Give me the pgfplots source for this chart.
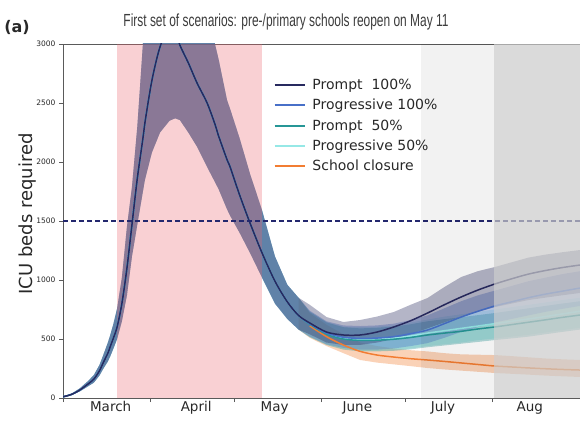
\documentclass[border=0pt]{standalone}
\usepackage{pgfplots}
\pgfplotsset{compat=1.18}
\usepackage{pgfplotstable}
\usepgfplotslibrary{fillbetween}
\usepackage{fontspec}
\setmainfont{DejaVu Sans}
\newfontfamily\titlefont{Liberation Sans}
\usepackage{graphicx}

\definecolor{cNavy}{RGB}{40,42,95}
\definecolor{cBlue}{RGB}{72,112,200}
\definecolor{cTeal}{RGB}{38,150,150}
\definecolor{cCyan}{RGB}{150,232,230}
\definecolor{cOrange}{RGB}{242,125,50}
\definecolor{cDash}{RGB}{35,40,110}
\definecolor{cAxis}{RGB}{90,90,90}
\definecolor{cText}{RGB}{40,40,40}
\definecolor{cGrayOv}{RGB}{202,202,202}
\definecolor{cPink}{RGB}{235,100,110}

\pgfplotstableread{
d nC nU nL bC bU bL tC tU tL cC cU cL
0 10 12 8 10 12 8 10 12 8 10 12 8
3 30 36 25 30 36 25 30 36 25 30 36 25
6 68 82 56 68 82 56 68 82 56 68 82 56
9 120 145 100 120 145 100 120 145 100 120 145 100
11 160 195 130 160 195 130 160 195 130 160 195 130
13 230 280 190 230 280 190 230 280 190 230 280 190
14.3 297 360 245 297 360 245 297 360 245 297 360 245
16 380 470 310 380 470 310 380 470 310 380 470 310
16.8 432 530 350 432 530 350 432 530 350 432 530 350
18 510 630 420 510 630 420 510 630 420 510 630 420
19.3 602 760 500 602 760 500 602 760 500 602 760 500
21 800 1020 650 800 1020 650 800 1020 650 800 1020 650
22.8 1100 1450 870 1100 1450 870 1100 1450 870 1100 1450 870
24.6 1470 1790 1200 1470 1790 1200 1470 1790 1200 1470 1790 1200
26.5 1860 2300 1470 1860 2300 1470 1860 2300 1470 1860 2300 1470
28.5 2200 3000 1750 2200 3000 1750 2200 3000 1750 2200 3000 1750
29.2 2330 3250 1847 2330 3250 1847 2330 3250 1847 2330 3250 1847
31.7 2690 3600 2080 2690 3600 2080 2690 3600 2080 2690 3600 2080
34.6 2975 3900 2250 2975 3900 2250 2975 3900 2250 2975 3900 2250
38 3150 4100 2350 3150 4100 2350 3150 4100 2350 3150 4100 2350
40 3120 4150 2370 3120 4150 2370 3120 4150 2370 3120 4150 2370
41.7 2990 4100 2355 2990 4100 2355 2990 4100 2355 2990 4100 2355
44.7 2840 3900 2250 2840 3900 2250 2840 3900 2250 2840 3900 2250
47.8 2670 3650 2130 2670 3650 2130 2670 3650 2130 2670 3650 2130
51.4 2500 3300 1958 2500 3300 1958 2500 3300 1958 2500 3300 1958
54.2 2320 3000 1830 2320 3000 1830 2320 3000 1830 2320 3000 1830
55.5 2220 2870 1770 2220 2870 1770 2220 2870 1770 2220 2870 1770
58.5 2020 2525 1600 2020 2525 1600 2020 2525 1600 2020 2525 1600
59.6 1958 2450 1545 1958 2450 1545 1958 2450 1545 1958 2450 1545
63 1720 2200 1400 1720 2200 1400 1720 2200 1400 1720 2200 1400
66.7 1483 1900 1230 1483 1900 1230 1483 1900 1230 1483 1900 1230
71 1229 1590 1020 1229 1590 1020 1229 1590 1020 1229 1590 1020
75.6 990 1200 800 990 1200 800 990 1200 800 990 1200 800
80 815 960 670 815 960 670 815 960 670 815 960 670
84 700 850 580 700 850 580 700 850 580 700 850 580
88 636 790 540 630 740 520 625 730 515 628 735 518
94 559 686 470 550 650 455 540 640 449 545 645 452
100 534 644 450 515 615 425 500 600 410 505 605 415
106 534 661 450 505 610 410 488 590 395 495 600 400
112 559 690 470 508 615 410 490 595 395 498 605 400
118 602 729 500 520 630 420 498 605 400 508 615 405
124 655 790 540 545 660 440 513 625 412 525 640 420
130 720 847 590 576 700 465 534 650 430 550 665 440
136 790 940 640 630 760 510 550 668 445 570 690 455
142 856 1025 690 686 820 560 565 685 460 590 710 470
148 915 1075 730 735 870 600 585 702 475 610 730 490
154 966 1110 770 780 910 640 602 720 491 630 750 505
160 1010 1150 800 815 950 670 622 740 505 650 770 520
166 1050 1190 830 850 990 700 642 760 520 670 790 535
172 1080 1215 850 880 1020 730 662 780 540 690 810 555
178 1105 1235 870 905 1050 755 683 800 560 712 830 575
184.4 1127 1254 890 932 1075 780 703 820 580 735 850 595
}\mainTab

\pgfplotstableread{
d oU oL
84 850 580
88 720 510
94 620 440
100 540 380
106 470 322
112 440 300
118 420 285
124 405 270
130 395 254
136 380 242
142 370 232
148 367 222
154 364 212
160 355 205
166 345 198
172 335 190
178 328 184
184.4 322 178
}\orangeBand

\pgfplotstableread{
d oC
88 612
94 520
100 449
106 395
112 364
118 347
124 333
130 322
136 310
142 297
148 284
154 271
160 263
166 255
172 248
178 242
184.4 237
}\orangeLine

\begin{document}
\begin{tikzpicture}
\begin{axis}[
  name=ax,
  scale only axis,
  width=517pt, height=354pt,
  xmin=0, xmax=184.4, ymin=0, ymax=3000,
  axis x line*=box, axis y line*=left,
  xtick pos=bottom, ytick pos=left,
  axis line style={cAxis, line width=0.6pt},
  tick style={cAxis, line width=0.6pt},
  tick align=outside, major tick length=4pt,
  xtick={0,31,61,92,122,153}, xticklabels={},
  extra x ticks={17,47.5,75.5,105,135.5,166.5},
  extra x tick labels={March,April,May,June,July,Aug},
  extra x tick style={major tick length=0pt,
     xticklabel style={font=\fontsize{13.5}{16}\selectfont, text=cText}},
  ytick={0,500,1000,1500,2000,2500,3000},
  yticklabel style={font=\fontsize{7.5}{9}\selectfont, text=cText},
  /pgf/number format/1000 sep={},
  /pgf/number format/assume math mode=true,
  no markers,
  clip=true,
  legend cell align=left,
  legend image code/.code={\draw[#1] (0pt,0pt) -- (30pt,0pt); \path (35pt,0pt);},
  legend style={at={(rel axis cs:0.403,0.913)}, anchor=north west,
     draw=none, fill=none, font=\fontsize{14}{16.5}\selectfont,
     text=cText, row sep=4.3pt, inner sep=2pt},
]
% band boundaries
\addplot[draw=none, name path=oU, forget plot] table[x=d,y=oU]{\orangeBand};
\addplot[draw=none, name path=oL, forget plot] table[x=d,y=oL]{\orangeBand};
\addplot[draw=none, name path=cU, forget plot] table[x=d,y=cU]{\mainTab};
\addplot[draw=none, name path=cL, forget plot] table[x=d,y=cL]{\mainTab};
\addplot[draw=none, name path=tU, forget plot] table[x=d,y=tU]{\mainTab};
\addplot[draw=none, name path=tL, forget plot] table[x=d,y=tL]{\mainTab};
\addplot[draw=none, name path=bU, forget plot] table[x=d,y=bU]{\mainTab};
\addplot[draw=none, name path=bL, forget plot] table[x=d,y=bL]{\mainTab};
\addplot[draw=none, name path=nU, forget plot] table[x=d,y=nU]{\mainTab};
\addplot[draw=none, name path=nL, forget plot] table[x=d,y=nL]{\mainTab};

\addplot[fill=cOrange, fill opacity=0.35, draw=none, forget plot] fill between[of=oU and oL];
\addplot[fill=cCyan, fill opacity=0.35, draw=none, forget plot] fill between[of=cU and cL];
\addplot[fill=cTeal, fill opacity=0.35, draw=none, forget plot] fill between[of=tU and tL];
\addplot[fill=cBlue, fill opacity=0.35, draw=none, forget plot] fill between[of=bU and bL];
\addplot[fill=cNavy, fill opacity=0.35, draw=none, forget plot] fill between[of=nU and nL];

% lockdown overlay
\addplot[fill=cPink, fill opacity=0.3, draw=none, forget plot] coordinates {(19.3,3000) (71,3000)} \closedcycle;

% center lines
\addplot[draw=cOrange, line width=1.5pt, smooth, forget plot] table[x=d,y=oC]{\orangeLine};
\addplot[draw=cCyan, line width=1.5pt, smooth, forget plot] table[x=d,y=cC]{\mainTab};
\addplot[draw=cTeal, line width=1.5pt, smooth, forget plot] table[x=d,y=tC]{\mainTab};
\addplot[draw=cBlue, line width=1.5pt, smooth, forget plot] table[x=d,y=bC]{\mainTab};
\addplot[draw=cNavy, line width=1.5pt, smooth, forget plot] table[x=d,y=nC]{\mainTab};

% capacity line
\addplot[draw=cDash, line width=1.3pt, dash pattern=on 5pt off 3pt, forget plot] coordinates {(0,1500) (184.4,1500)};
% grey overlays
\addplot[fill=black, fill opacity=0.05, draw=none, forget plot] coordinates {(127.7,3000) (153.7,3000)} \closedcycle;
\addplot[fill=cGrayOv, fill opacity=0.7, draw=none, forget plot] coordinates {(153.7,3000) (184.4,3000)} \closedcycle;

% legend
\addlegendimage{draw=cNavy, line width=1.9pt}
\addlegendentry{Prompt\ \ 100\%}
\addlegendimage{draw=cBlue, line width=1.9pt}
\addlegendentry{Progressive 100\%}
\addlegendimage{draw=cTeal, line width=1.9pt}
\addlegendentry{Prompt\ \ 50\%}
\addlegendimage{draw=cCyan, line width=1.9pt}
\addlegendentry{Progressive 50\%}
\addlegendimage{draw=cOrange, line width=1.9pt}
\addlegendentry{School closure}

\coordinate (SW) at (rel axis cs:0,0);
\coordinate (NE) at (rel axis cs:1,1);
\coordinate (NW) at (rel axis cs:0,1);
\end{axis}
\node[anchor=base, text={rgb,255:red,60;green,60;blue,60}, font=\titlefont\fontsize{17.5}{20}\selectfont] at ([xshift=223pt,yshift=17pt]NW) {\scalebox{0.683}[1]{First set of scenarios: pre-/primary schools reopen on May 11}};
\node[anchor=base, text=cText, font=\bfseries\fontsize{16}{19}\selectfont] at ([xshift=-46pt,yshift=11pt]NW) {(a)};
\node[rotate=90, text=cText, font=\fontsize{18}{21}\selectfont] at ([xshift=-35pt,yshift=-170pt]NW) {ICU beds required};
\pgfresetboundingbox
\path[use as bounding box] ([xshift=-63pt,yshift=-22pt]SW) rectangle ([yshift=44pt]NE);
\end{tikzpicture}
\end{document}
